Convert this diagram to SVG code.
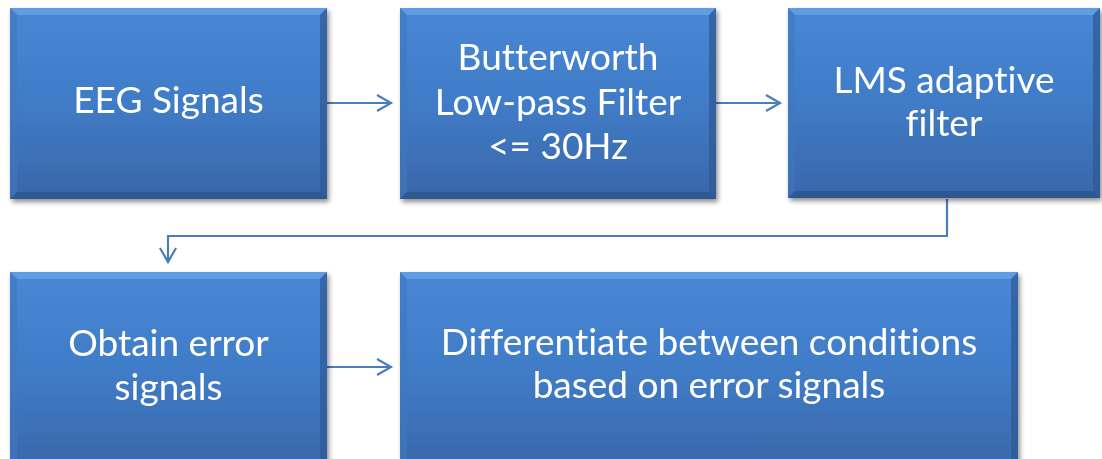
<svg xmlns="http://www.w3.org/2000/svg" width="1102" height="459" viewBox="0 0 1102 459">
<defs>
<linearGradient id="fillG" x1="0" y1="0" x2="0" y2="1">
<stop offset="0" stop-color="#4887d6"/>
<stop offset="0.5" stop-color="#407cc7"/>
<stop offset="1" stop-color="#3966a9"/>
</linearGradient>
<filter id="sh" x="-5%" y="-5%" width="115%" height="120%">
<feGaussianBlur in="SourceAlpha" stdDeviation="2.5"/>
<feOffset dx="2" dy="3" result="b"/>
<feComponentTransfer><feFuncA type="linear" slope="0.45"/></feComponentTransfer>
<feMerge><feMergeNode/><feMergeNode in="SourceGraphic"/></feMerge>
</filter>
<marker id="arr" viewBox="0 0 20 20" refX="17" refY="10" markerWidth="20" markerHeight="20" markerUnits="userSpaceOnUse" orient="auto">
<path d="M3,2 L17,10 L3,18" fill="none" stroke="#4a7ebb" stroke-width="2.2"/>
</marker>
</defs>
<style>
.base{fill:url(#fillG);}
.bt{fill:#6aa3e6;opacity:0.75;}
.bl{fill:#3f78c0;opacity:0.6;}
.br{fill:#2c5894;opacity:0.7;}
.bb{fill:#2a5288;opacity:0.7;}
text{font-family:Lato,"Open Sans","Liberation Sans",sans-serif;font-size:37px;fill:#ffffff;text-anchor:middle;font-variant-ligatures:none;}
.conn{fill:none;stroke:#4a7ebb;stroke-width:2.2;}
</style>
<g id="connectors">
<path class="conn" d="M327,103 L391,103" marker-end="url(#arr)"/>
<path class="conn" d="M716,103 L780,103" marker-end="url(#arr)"/>
<path class="conn" d="M947,199 L947,236 L168,236 L168,262" marker-end="url(#arr)"/>
<path class="conn" d="M327,367 L391,367" marker-end="url(#arr)"/>
</g>
<g id="n1" filter="url(#sh)">
<rect class="base" x="10" y="8" width="317" height="191"/>
<polygon class="bt" points="10,8 327,8 320,15 17,15"/>
<polygon class="bl" points="10,8 17,15 17,192 10,199"/>
<polygon class="br" points="327,8 327,199 320,192 320,15"/>
<polygon class="bb" points="10,199 327,199 320,192 17,192"/>
<text x="168.5" y="113">EEG Signals</text>
</g>
<g id="n2" filter="url(#sh)">
<rect class="base" x="400" y="8" width="316" height="191"/>
<polygon class="bt" points="400,8 716,8 709,15 407,15"/>
<polygon class="bl" points="400,8 407,15 407,192 400,199"/>
<polygon class="br" points="716,8 716,199 709,192 709,15"/>
<polygon class="bb" points="400,199 716,199 709,192 407,192"/>
<text x="558" y="70">Butterworth</text>
<text x="558" y="115">Low-pass Filter</text>
<text x="558" y="159">&lt;= 30Hz</text>
</g>
<g id="n3" filter="url(#sh)">
<rect class="base" x="788" y="8" width="312" height="190"/>
<polygon class="bt" points="788,8 1100,8 1093,15 795,15"/>
<polygon class="bl" points="788,8 795,15 795,191 788,198"/>
<polygon class="br" points="1100,8 1100,198 1093,191 1093,15"/>
<polygon class="bb" points="788,198 1100,198 1093,191 795,191"/>
<text x="944" y="93">LMS adaptive</text>
<text x="944" y="136">filter</text>
</g>
<g id="n4" filter="url(#sh)">
<rect class="base" x="10" y="272" width="317" height="200"/>
<polygon class="bt" points="10,272 327,272 320,279 17,279"/>
<polygon class="bl" points="10,272 17,279 17,472 10,472"/>
<polygon class="br" points="327,272 327,472 320,472 320,279"/>
<text x="168.5" y="356">Obtain error</text>
<text x="168.5" y="400">signals</text>
</g>
<g id="n5" filter="url(#sh)">
<rect class="base" x="400" y="272" width="618" height="200"/>
<polygon class="bt" points="400,272 1018,272 1011,279 407,279"/>
<polygon class="bl" points="400,272 407,279 407,472 400,472"/>
<polygon class="br" points="1018,272 1018,472 1011,472 1011,279"/>
<text x="709" y="355">Differentiate between conditions</text>
<text x="709" y="398">based on error signals</text>
</g>
</svg>
